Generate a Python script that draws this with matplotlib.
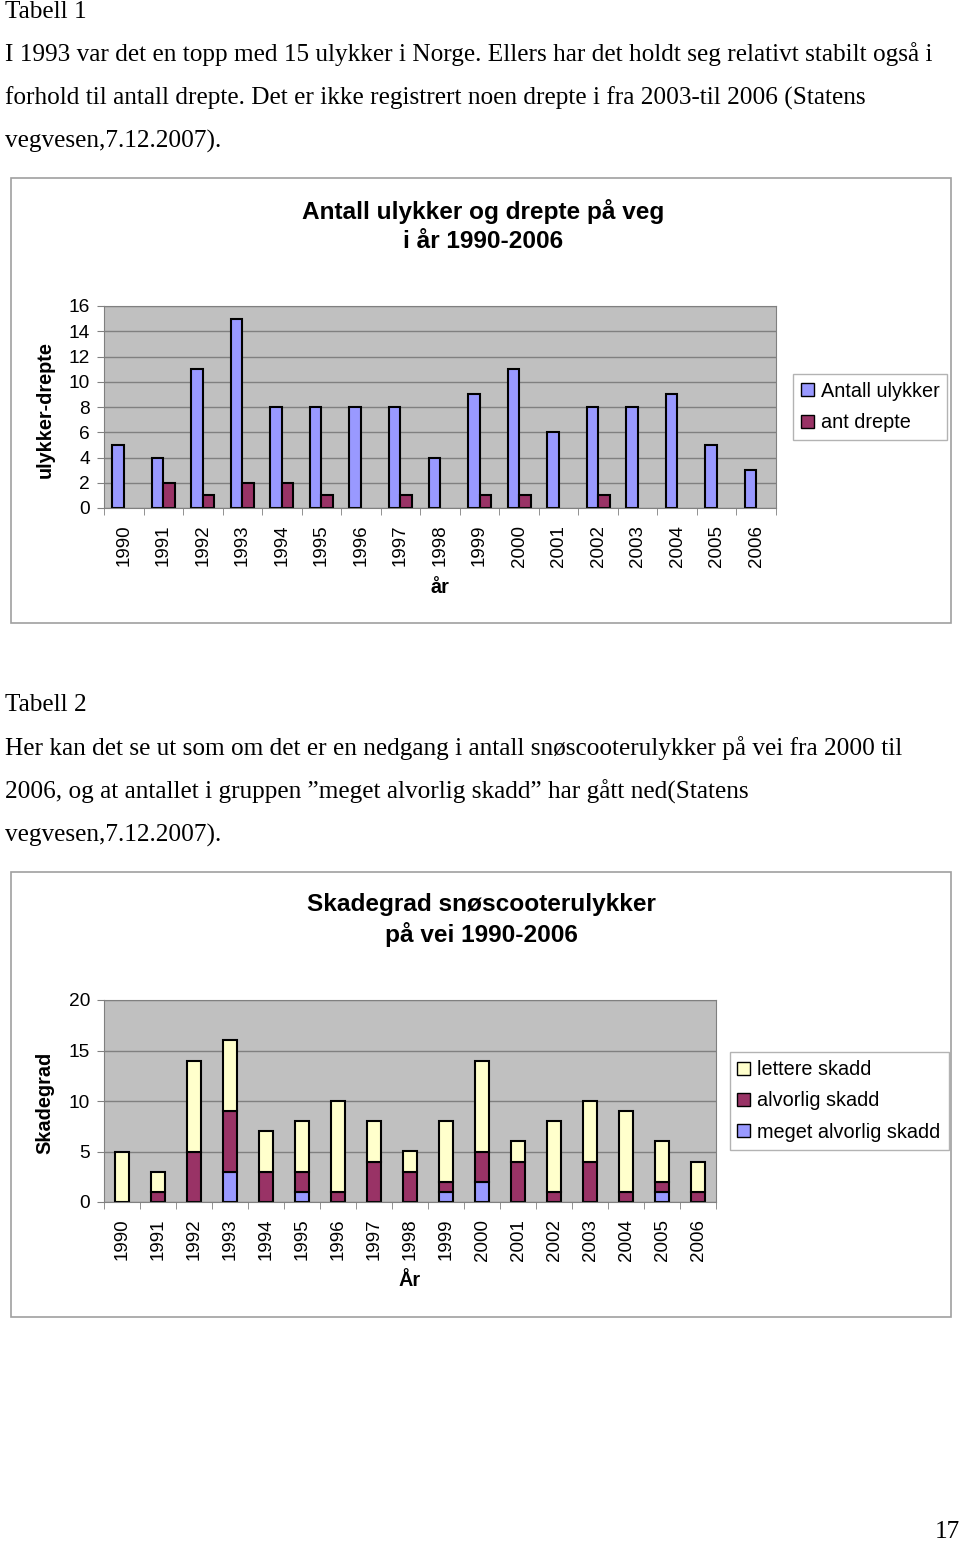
import matplotlib
matplotlib.use('Agg')
import matplotlib.pyplot as plt
from matplotlib.patches import Rectangle, Patch
import numpy as np

years = [str(y) for y in range(1990, 2007)]

# Chart 1: accidents and deaths
ulykker = [5, 4, 11, 15, 8, 8, 8, 8, 4, 9, 11, 6, 8, 8, 9, 5, 3]
drepte = [0, 2, 1, 2, 2, 1, 0, 1, 0, 1, 1, 0, 1, 0, 0, 0, 0]

# Chart 2: injury severity, stacked
meget_alvorlig = [0, 0, 0, 3, 0, 1, 0, 0, 0, 1, 2, 0, 0, 0, 0, 1, 0]
alvorlig = [0, 1, 5, 6, 3, 2, 1, 4, 3, 1, 3, 4, 1, 4, 1, 1, 1]
lettere = [5, 2, 9, 7, 4, 5, 9, 4, 2, 6, 9, 2, 7, 6, 8, 4, 3]

BLUE = '#9999FF'
MAROON = '#993366'
YELLOW = '#FFFFCC'
PLOTBG = '#C0C0C0'
GRID = '#808080'

W, H = 960, 1543
fig = plt.figure(figsize=(W / 100, H / 100), dpi=100)

def box(left, top, right, bottom):
    return [left / W, 1 - bottom / H, (right - left) / W, (bottom - top) / H]

serif = 'Liberation Serif'
sans = 'Liberation Sans'
body = 18.2

# Body text
def line(x, y, s):
    fig.text(x / W, 1 - y / H, s, family=serif, fontsize=body, va='center', ha='left')

line(5, 12, "Tabell 1")
line(5, 54, "I 1993 var det en topp med 15 ulykker i Norge. Ellers har det holdt seg relativt stabilt også i")
line(5, 98, "forhold til antall drepte. Det er ikke registrert noen drepte i fra 2003-til 2006 (Statens")
line(5, 141, "vegvesen,7.12.2007).")
line(5, 705, "Tabell 2")
line(5, 748, "Her kan det se ut som om det er en nedgang i antall snøscooterulykker på vei fra 2000 til")
line(5, 792, "2006, og at antallet i gruppen \u201dmeget alvorlig skadd\u201d har gått ned(Statens")
line(5, 835, "vegvesen,7.12.2007).")
fig.text(960 / W, 1 - 1532 / H, "17", family=serif, fontsize=body, va='center', ha='right')

# Chart frames
for top, bottom in [(178, 623), (872, 1317)]:
    fig.patches.append(Rectangle((11 / W, 1 - bottom / H), 940 / W, (bottom - top) / H,
                                 transform=fig.transFigure, fill=False,
                                 edgecolor='#A0A0A0', lw=1.2))

def style_axes(ax, ymax, step):
    ax.set_facecolor(PLOTBG)
    ax.set_ylim(0, ymax)
    ax.set_yticks(np.arange(0, ymax + 1, step))
    ax.set_xlim(-0.5, len(years) - 0.5)
    ax.set_xticks(range(len(years)))
    ax.set_xticklabels(years, rotation=90, family=sans, fontsize=13.5)
    ax.set_xticks(np.arange(-0.5, len(years), 1), minor=True)
    ax.tick_params(axis='x', which='major', length=0, pad=12)
    ax.tick_params(axis='x', which='minor', length=5, color=GRID, direction='out')
    ax.tick_params(axis='y', length=5, color=GRID, pad=5, labelsize=13.8)
    for lab in ax.get_yticklabels():
        lab.set_family(sans)
    ax.yaxis.grid(True, color=GRID, lw=1)
    ax.set_axisbelow(True)
    for s in ax.spines.values():
        s.set_color(GRID)

def edge_widths(vals):
    # empty bars get no outline
    return [1.5 if v > 0 else 0 for v in vals]

x = np.arange(len(years))
legend_kw = dict(loc='center', prop={'family': sans, 'size': 14.3}, frameon=True,
                 fancybox=False, edgecolor='#A0A0A0', handlelength=0.65, handleheight=0.65,
                 handletextpad=0.35, borderpad=0.4, labelspacing=0.62, borderaxespad=0)

# Chart 1
ax1 = fig.add_axes(box(104, 306, 776, 508))
w1 = 0.29
ax1.bar(x - w1 / 2, ulykker, w1, color=BLUE, edgecolor='black', lw=edge_widths(ulykker))
ax1.bar(x + w1 / 2, drepte, w1, color=MAROON, edgecolor='black', lw=edge_widths(drepte))
style_axes(ax1, 16, 2)
fig.text(483 / W, 1 - 226 / H, "Antall ulykker og drepte på veg\ni år 1990-2006",
         family=sans, fontsize=17.6, fontweight='bold', ha='center', va='center', linespacing=1.3)
fig.text(45 / W, 1 - 410 / H, "ulykker-drepte", family=sans, fontsize=14.3, fontweight='bold',
         rotation=90, ha='center', va='center')
fig.text(440 / W, 1 - 587 / H, "år", family=sans, fontsize=14.3, fontweight='bold',
         ha='center', va='center')
h1 = [Patch(facecolor=BLUE, edgecolor='black', lw=1), Patch(facecolor=MAROON, edgecolor='black', lw=1)]
fig.legend(h1, ['Antall ulykker', 'ant drepte'],
           bbox_to_anchor=(870 / W, 1 - 407 / H), **legend_kw)

# Chart 2
ax2 = fig.add_axes(box(104, 1000, 716, 1202))
w2 = 0.4
b2 = np.array(meget_alvorlig)
b3 = b2 + np.array(alvorlig)
ax2.bar(x, meget_alvorlig, w2, color=BLUE, edgecolor='black', lw=edge_widths(meget_alvorlig))
ax2.bar(x, alvorlig, w2, bottom=b2, color=MAROON, edgecolor='black', lw=edge_widths(alvorlig))
ax2.bar(x, lettere, w2, bottom=b3, color=YELLOW, edgecolor='black', lw=edge_widths(lettere))
style_axes(ax2, 20, 5)
fig.text(481 / W, 1 - 920 / H, "Skadegrad snøscooterulykker\npå vei 1990-2006",
         family=sans, fontsize=17.6, fontweight='bold', ha='center', va='center', linespacing=1.3)
fig.text(45 / W, 1 - 1103 / H, "Skadegrad", family=sans, fontsize=14.3, fontweight='bold',
         rotation=90, ha='center', va='center')
fig.text(410 / W, 1 - 1280 / H, "År", family=sans, fontsize=14.3, fontweight='bold',
         ha='center', va='center')
h2 = [Patch(facecolor=YELLOW, edgecolor='black', lw=1), Patch(facecolor=MAROON, edgecolor='black', lw=1),
      Patch(facecolor=BLUE, edgecolor='black', lw=1)]
fig.legend(h2, ['lettere skadd', 'alvorlig skadd', 'meget alvorlig skadd'],
           bbox_to_anchor=(839 / W, 1 - 1101 / H), **legend_kw)

fig.savefig('out.png', dpi=100)
